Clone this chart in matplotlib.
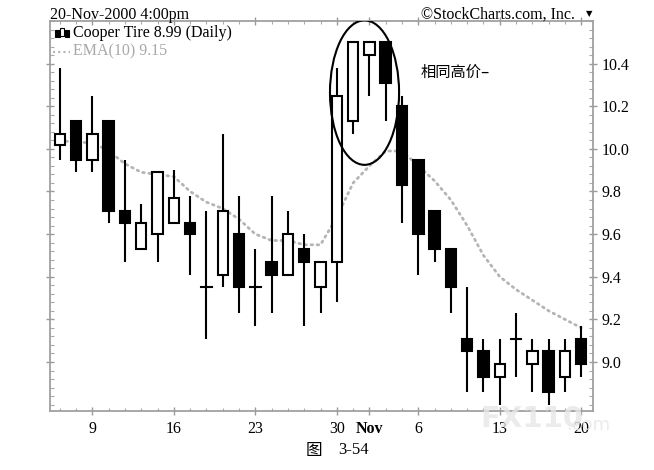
import numpy as np
import matplotlib.pyplot as plt
from matplotlib.patches import Ellipse, Rectangle
from matplotlib.ticker import MultipleLocator, FixedLocator

plt.rcParams['font.family'] = ['Liberation Serif', 'Noto Sans CJK SC']

# daily bars, Oct 5 .. Nov 20 2000
days = ['10-05', '10-06', '10-09', '10-10', '10-11', '10-12', '10-13',
        '10-16', '10-17', '10-18', '10-19', '10-20', '10-23', '10-24',
        '10-25', '10-26', '10-27', '10-30', '10-31', '11-01', '11-02',
        '11-03', '11-06', '11-07', '11-08', '11-09', '11-10', '11-13',
        '11-14', '11-15', '11-16', '11-17', '11-20']
opens = [10.02, 10.13, 9.95, 10.13, 9.71, 9.53, 9.60, 9.65, 9.65, 9.35, 9.41,
         9.60, 9.35, 9.47, 9.41, 9.53, 9.35, 9.47, 10.13, 10.44, 10.50, 10.20,
         9.95, 9.71, 9.53, 9.11, 9.05, 8.93, 9.11, 8.99, 9.05, 8.93, 9.11]
highs = [10.38, 10.13, 10.25, 10.13, 9.95, 9.74, 9.89, 9.90, 9.78, 9.71, 10.07,
         9.78, 9.53, 9.78, 9.71, 9.60, 9.47, 10.38, 10.50, 10.50, 10.50, 10.25,
         9.95, 9.71, 9.53, 9.35, 9.11, 9.11, 9.23, 9.11, 9.11, 9.11, 9.17]
lows = [9.95, 9.89, 9.89, 9.65, 9.47, 9.53, 9.47, 9.65, 9.41, 9.11, 9.35,
        9.23, 9.17, 9.23, 9.41, 9.17, 9.23, 9.28, 10.07, 10.25, 10.13, 9.65,
        9.41, 9.47, 9.23, 8.86, 8.86, 8.80, 8.93, 8.86, 8.80, 8.86, 8.93]
closes = [10.07, 9.95, 10.07, 9.71, 9.65, 9.65, 9.89, 9.77, 9.60, 9.35, 9.71,
          9.35, 9.35, 9.41, 9.60, 9.47, 9.47, 10.25, 10.50, 10.50, 10.31, 9.83,
          9.60, 9.53, 9.35, 9.05, 8.93, 8.99, 9.11, 9.05, 8.86, 9.05, 8.99]
ema10 = [10.04, 10.03, 10.03, 9.99, 9.93, 9.89, 9.88, 9.87, 9.80, 9.75, 9.72,
         9.67, 9.60, 9.57, 9.57, 9.55, 9.55, 9.68, 9.84, 9.92, 9.99, 9.99,
         9.92, 9.85, 9.76, 9.64, 9.50, 9.40, 9.34, 9.29, 9.24, 9.20, 9.16]

tick_pos = [2, 7, 12, 17, 19, 22, 27, 32]
tick_labels = ['9', '16', '23', '30', 'Nov', '6', '13', '20']
price_ticks = [9.0, 9.2, 9.4, 9.6, 9.8, 10.0, 10.2, 10.4]

fig = plt.figure(figsize=(6.54, 4.70), dpi=100)
ax = fig.add_axes([50/654, 1-411/470, 543/654, 390/470])

x = np.arange(len(days))
w = 0.64
for i in x:
    o, h, l, c = opens[i], highs[i], lows[i], closes[i]
    ax.plot([i, i], [l, h], color='black', lw=1.5, zorder=2, solid_capstyle='butt')
    if abs(c - o) < 0.005:
        ax.plot([i - w/2, i + w/2], [o, o], color='black', lw=1.5, zorder=3)
    else:
        fc = 'white' if c > o else 'black'
        ax.add_patch(Rectangle((i - w/2, min(o, c)), w, abs(c - o),
                               facecolor=fc, edgecolor='black', lw=1.5, zorder=3))

ax.plot(x, ema10, color='#b5b5b5', lw=2, linestyle=(0, (0.6, 1.6)),
        dash_capstyle='round', zorder=1)

ax.add_patch(Ellipse((18.7, 10.264), 4.24, 0.678, fill=False,
                     edgecolor='black', lw=1.5, zorder=4))
ax.text(22.15, 10.358, '相同高价–', fontsize=11, va='center',
        family=['Noto Sans CJK SC', 'DejaVu Sans'])

ax.set_xlim(-0.6, 32.72)
ax.set_ylim(8.77, 10.60)

ax.yaxis.tick_right()
ax.yaxis.set_ticks_position('both')
ax.yaxis.set_major_locator(FixedLocator(price_ticks))
ax.yaxis.set_minor_locator(MultipleLocator(0.04))
ax.set_yticklabels(['%.1f' % p for p in price_ticks])
ax.tick_params(axis='y', which='major', direction='inout', length=6, width=1,
               color='#999999', labelsize=11.5, labelleft=False, labelright=True, pad=3)
ax.tick_params(axis='y', which='minor', direction='in', length=3, width=0.8,
               color='#aaaaaa')

ax.xaxis.set_ticks_position('both')
ax.set_xticks(tick_pos)
ax.set_xticklabels(tick_labels)
ax.xaxis.set_minor_locator(MultipleLocator(1))
ax.tick_params(axis='x', which='major', direction='inout', length=6, width=1,
               color='#999999', labelsize=11.5, labeltop=False, pad=4)
ax.tick_params(axis='x', which='minor', direction='in', length=2, width=0.8,
               color='#aaaaaa')
ax.get_xticklabels()[4].set_fontweight('bold')

for s in ax.spines.values():
    s.set_color('#a0a0a0')
    s.set_linewidth(1.3)
    s.set_linestyle((0, (2, 1)))

# legend inside top-left
for k, (dx, fc) in enumerate([(0.010, 'black'), (0.019, 'white'), (0.028, 'black')]):
    ax.add_patch(Rectangle((dx, 0.958 + 0.004 * (k % 2)), 0.0075, 0.02,
                           transform=ax.transAxes, facecolor=fc,
                           edgecolor='black', lw=0.8, clip_on=False, zorder=5))
ax.text(0.042, 0.969, 'Cooper Tire 8.99 (Daily)', transform=ax.transAxes,
        fontsize=11.5, va='center')
ax.plot([0.006, 0.036], [0.921, 0.921], transform=ax.transAxes, color='#b5b5b5',
        lw=1.5, linestyle=(0, (1, 1.5)))
ax.text(0.042, 0.921, 'EMA(10) 9.15', transform=ax.transAxes,
        fontsize=11.5, va='center', color='#a8a8a8')

fig.text(50/654, 1-19/470, '20-Nov-2000 4:00pm', fontsize=11.5, va='baseline')
fig.text(575/654, 1-19/470, '©StockCharts.com, Inc.', fontsize=11.5,
         va='baseline', ha='right')
fig.text(589/654, 1-14/470, '▼', fontsize=6, ha='center', va='center',
         family='DejaVu Sans')

fig.text(306/654, 1-450/470, '图', fontsize=12, va='center',
         family=['Noto Sans CJK SC', 'DejaVu Sans'])
fig.text(338/654, 1-450/470, '3-54', fontsize=12, va='center')

# faint site watermark
fig.text(480/654, 1-419/470, 'FX110', fontsize=21, fontweight='bold',
         color='#e6e6e6', va='center', family='DejaVu Sans', alpha=0.8)
fig.text(566/654, 1-425/470, '.com', fontsize=13, color='#e6e6e6',
         va='center', family='DejaVu Sans', alpha=0.8)

fig.savefig('out.png', dpi=100)
